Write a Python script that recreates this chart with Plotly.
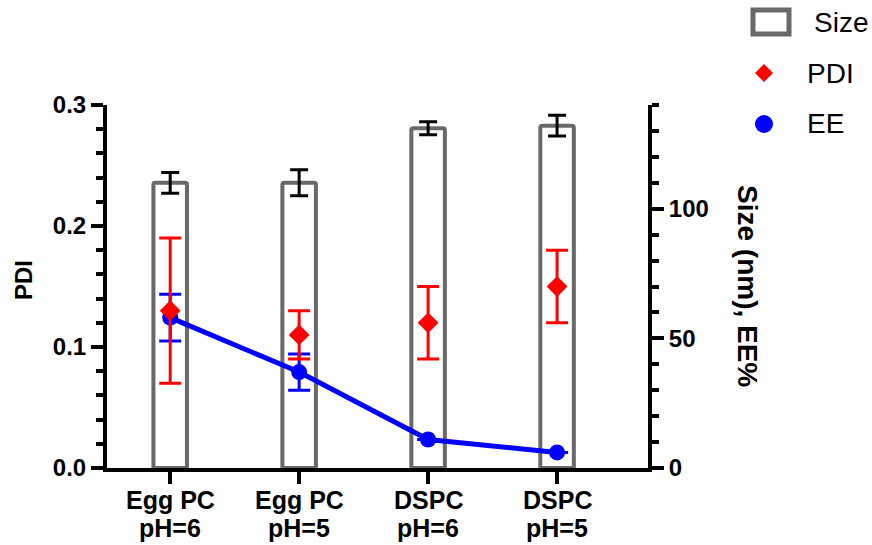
import plotly.graph_objects as go

# Formulations and measured properties
lipids = ["Egg PC", "Egg PC", "DSPC", "DSPC"]
ph_labels = ["pH=6", "pH=5", "pH=6", "pH=5"]
categories = [f"{a} {b}" for a, b in zip(lipids, ph_labels)]
size_nm = [110, 110, 131, 132]
size_err = [4, 5, 2.5, 4]
pdi = [0.13, 0.11, 0.12, 0.15]
pdi_err = [0.06, 0.02, 0.03, 0.03]
ee_pct = [58, 37, 11, 6]
ee_err = [9, 7, None, None]  # DSPC error bars are smaller than the symbol

W, H = 872, 545
ML, MR, MT, MB = 107, 224, 105, 77
PW, PH = W - ML - MR, H - MT - MB

BOLD = "Liberation Sans, Arial, sans-serif"
GRAY = "#696969"


def px(x):
    return (x - ML) / PW


def py(y):
    return (H - MB - y) / PH


fig = go.Figure()

# Size bars (right axis, main y)
fig.add_trace(go.Bar(
    x=categories, y=size_nm, name="Size", width=0.26,
    marker=dict(color="white", line=dict(color=GRAY, width=4), cornerradius=2),
    error_y=dict(type="data", array=size_err, color="black", thickness=3, width=9),
    yaxis="y", showlegend=False,
))

# Encapsulation efficiency (right axis)
fig.add_trace(go.Scatter(
    x=categories, y=ee_pct, name="EE", mode="lines+markers",
    line=dict(color="#0000ff", width=5),
    marker=dict(symbol="circle", size=16, color="#0000ff"),
    error_y=dict(type="data", array=ee_err, color="#0000ff", thickness=3, width=11),
    yaxis="y", showlegend=False,
))

# PDI (left axis)
fig.add_trace(go.Scatter(
    x=categories, y=pdi, name="PDI", mode="markers",
    marker=dict(symbol="diamond", size=16, color="#ff0000"),
    error_y=dict(type="data", array=pdi_err, color="#ff0000", thickness=3, width=11),
    yaxis="y2", showlegend=False,
))

tickfont = dict(family=BOLD, size=24, color="black", weight="bold")

fig.update_layout(
    width=W, height=H,
    margin=dict(l=ML, r=MR, t=MT, b=MB, pad=0),
    paper_bgcolor="white", plot_bgcolor="white",
    showlegend=False,
    xaxis=dict(
        type="category", range=[-0.49, 3.705], automargin=False,
        showline=True, linecolor="black", linewidth=4,
        ticks="outside", ticklen=12, tickwidth=4, tickcolor="black",
        showgrid=False, zeroline=False, showticklabels=False,
    ),
    yaxis=dict(
        side="right", range=[0, 140], tickvals=[0, 50, 100], automargin=False,
        showline=True, linecolor="black", linewidth=4,
        ticks="outside", ticklen=12, tickwidth=4, tickcolor="black",
        minor=dict(dtick=10, ticks="outside", ticklen=7, tickwidth=4, tickcolor="black", showgrid=False),
        showgrid=False, zeroline=False, tickfont=tickfont,
    ),
    yaxis2=dict(
        overlaying="y", side="left", range=[0, 0.3], dtick=0.1, tickformat=".1f", automargin=False,
        showline=True, linecolor="black", linewidth=4,
        ticks="outside", ticklen=12, tickwidth=4, tickcolor="black",
        minor=dict(dtick=0.02, ticks="outside", ticklen=7, tickwidth=4, tickcolor="black", showgrid=False),
        showgrid=False, zeroline=False, tickfont=tickfont,
    ),
)

# Two-line category labels under the x axis
catfont = dict(family=BOLD, size=25, color="black", weight="bold")
for cat, lipid, ph in zip(categories, lipids, ph_labels):
    fig.add_annotation(text=lipid, x=cat, xref="x", y=py(500), yref="paper",
                       xanchor="center", yanchor="middle", showarrow=False, font=catfont)
    fig.add_annotation(text=ph, x=cat, xref="x", y=py(528), yref="paper",
                       xanchor="center", yanchor="middle", showarrow=False, font=catfont)

# Axis titles
fig.add_annotation(text="PDI", x=px(23), y=py(280), xref="paper", yref="paper",
                   xanchor="center", yanchor="middle", showarrow=False, textangle=-90,
                   font=dict(family=BOLD, size=24, color="black", weight="bold"))
fig.add_annotation(text="Size (nm), EE%", x=px(748), y=py(286), xref="paper", yref="paper",
                   xanchor="center", yanchor="middle", showarrow=False, textangle=90,
                   font=dict(family=BOLD, size=28, color="black", weight="bold"))

# Legend keys
fig.add_shape(type="rect", xref="paper", yref="paper",
              xsizemode="pixel", ysizemode="pixel",
              xanchor=px(771), yanchor=py(22), x0=-18, x1=18, y0=-12, y1=12,
              line=dict(color=GRAY, width=5), fillcolor="white")
fig.add_shape(type="path", xref="paper", yref="paper",
              xsizemode="pixel", ysizemode="pixel",
              xanchor=px(764), yanchor=py(73),
              path="M0,9 L9,0 L0,-9 L-9,0 Z",
              line=dict(color="#ff0000", width=0), fillcolor="#ff0000")
fig.add_shape(type="circle", xref="paper", yref="paper",
              xsizemode="pixel", ysizemode="pixel",
              xanchor=px(764), yanchor=py(124), x0=-9, x1=9, y0=-9, y1=9,
              line=dict(color="#0000ff", width=0), fillcolor="#0000ff")

legend_font = dict(family="Liberation Sans, Arial, sans-serif", size=28, color="black")
for label, xx, yy in [("Size", 812, 23), ("PDI", 805, 73), ("EE", 805, 124)]:
    fig.add_annotation(text=label, x=px(xx), y=py(yy), xref="paper", yref="paper",
                       xanchor="left", yanchor="middle", showarrow=False, font=legend_font)

fig.write_html("out.html")
